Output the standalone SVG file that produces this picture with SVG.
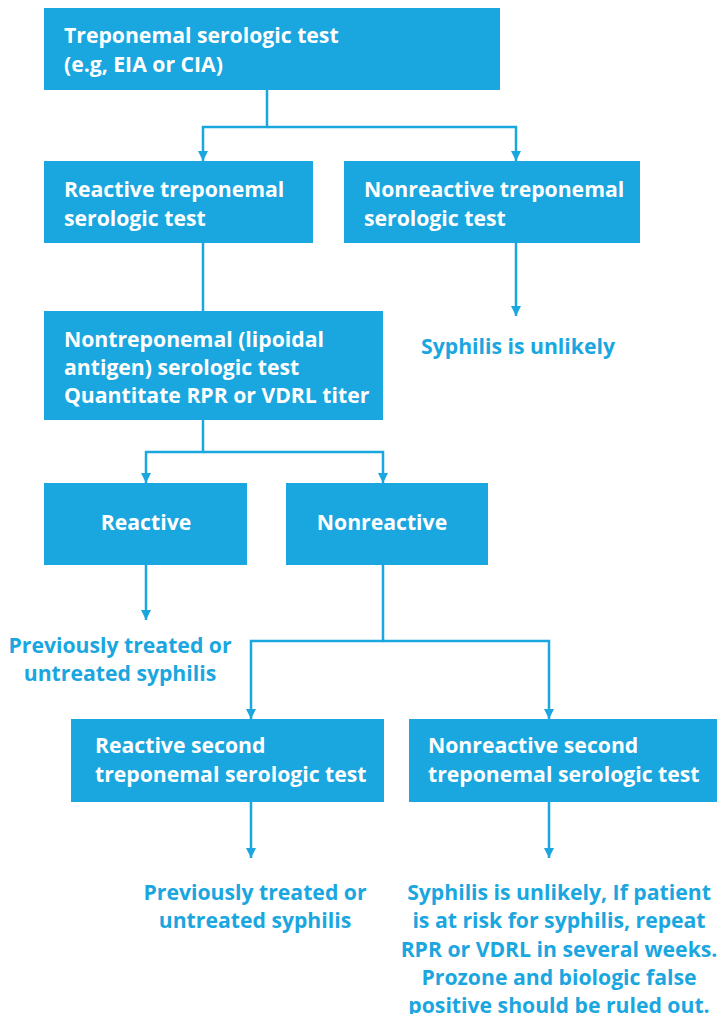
<svg xmlns="http://www.w3.org/2000/svg" width="724" height="1014" viewBox="0 0 724 1014">
<defs>
<marker id="arr" viewBox="0 0 10 12" refX="10" refY="6" markerWidth="10" markerHeight="12" markerUnits="userSpaceOnUse" orient="auto">
<path d="M0,1 L10,6 L0,11 Z" fill="#1aa6df"/>
</marker>
<style>
.box{fill:#1aa6df}
.bt{font-family:"Open Sans",Lato,sans-serif;font-weight:700;font-size:21.2px;fill:#ffffff}
.ot{font-family:"Open Sans",Lato,sans-serif;font-weight:700;font-size:21.2px;fill:#1aa6df;text-anchor:middle}
.ln{fill:none;stroke:#1aa6df;stroke-width:2.5}
</style>
</defs>
<g id="connectors">
<path class="ln" d="M267,90 V127 H203 V161" marker-end="url(#arr)"/>
<path class="ln" d="M267,127 H516 V161" marker-end="url(#arr)"/>
<path class="ln" d="M516,243 V316" marker-end="url(#arr)"/>
<path class="ln" d="M203,243 V311"/>
<path class="ln" d="M203,420 V452 H146 V483" marker-end="url(#arr)"/>
<path class="ln" d="M203,452 H383 V483" marker-end="url(#arr)"/>
<path class="ln" d="M146,565 V620" marker-end="url(#arr)"/>
<path class="ln" d="M383,565 V641 H251 V719" marker-end="url(#arr)"/>
<path class="ln" d="M383,641 H549 V719" marker-end="url(#arr)"/>
<path class="ln" d="M251,802 V858" marker-end="url(#arr)"/>
<path class="ln" d="M549,802 V858" marker-end="url(#arr)"/>
</g>
<g id="n1"><rect class="box" x="44" y="8" width="456" height="82"/>
<text class="bt" x="64" y="43">Treponemal serologic test</text>
<text class="bt" x="64" y="72">(e.g, EIA or CIA)</text></g>
<g id="n2"><rect class="box" x="44" y="161" width="269" height="82"/>
<text class="bt" x="64" y="197">Reactive treponemal</text>
<text class="bt" x="64" y="226">serologic test</text></g>
<g id="n3"><rect class="box" x="344" y="161" width="296" height="82"/>
<text class="bt" x="364" y="197">Nonreactive treponemal</text>
<text class="bt" x="364" y="226">serologic test</text></g>
<g id="n3out"><text class="ot" x="518" y="354">Syphilis is unlikely</text></g>
<g id="n4"><rect class="box" x="44" y="311" width="339" height="109"/>
<text class="bt" x="64" y="347">Nontreponemal (lipoidal</text>
<text class="bt" x="64" y="375">antigen) serologic test</text>
<text class="bt" x="64" y="403">Quantitate RPR or VDRL titer</text></g>
<g id="n5"><rect class="box" x="44" y="483" width="203" height="82"/>
<text class="bt" x="146" y="530" text-anchor="middle">Reactive</text></g>
<g id="n6"><rect class="box" x="286" y="483" width="202" height="82"/>
<text class="bt" x="382" y="530" text-anchor="middle">Nonreactive</text></g>
<g id="n5out"><text class="ot" x="120" y="653">Previously treated or</text>
<text class="ot" x="120" y="681">untreated syphilis</text></g>
<g id="n7"><rect class="box" x="71" y="719" width="313" height="83"/>
<text class="bt" x="95" y="753">Reactive second</text>
<text class="bt" x="95" y="782">treponemal serologic test</text></g>
<g id="n8"><rect class="box" x="409" y="719" width="308" height="83"/>
<text class="bt" x="428" y="753">Nonreactive second</text>
<text class="bt" x="428" y="782">treponemal serologic test</text></g>
<g id="n7out"><text class="ot" x="255" y="900">Previously treated or</text>
<text class="ot" x="255" y="928">untreated syphilis</text></g>
<g id="n8out"><text class="ot" x="559" y="900">Syphilis is unlikely, If patient</text>
<text class="ot" x="559" y="928">is at risk for syphilis, repeat</text>
<text class="ot" x="559" y="957">RPR or VDRL in several weeks.</text>
<text class="ot" x="559" y="985">Prozone and biologic false</text>
<text class="ot" x="559" y="1013">positive should be ruled out.</text></g>
</svg>
